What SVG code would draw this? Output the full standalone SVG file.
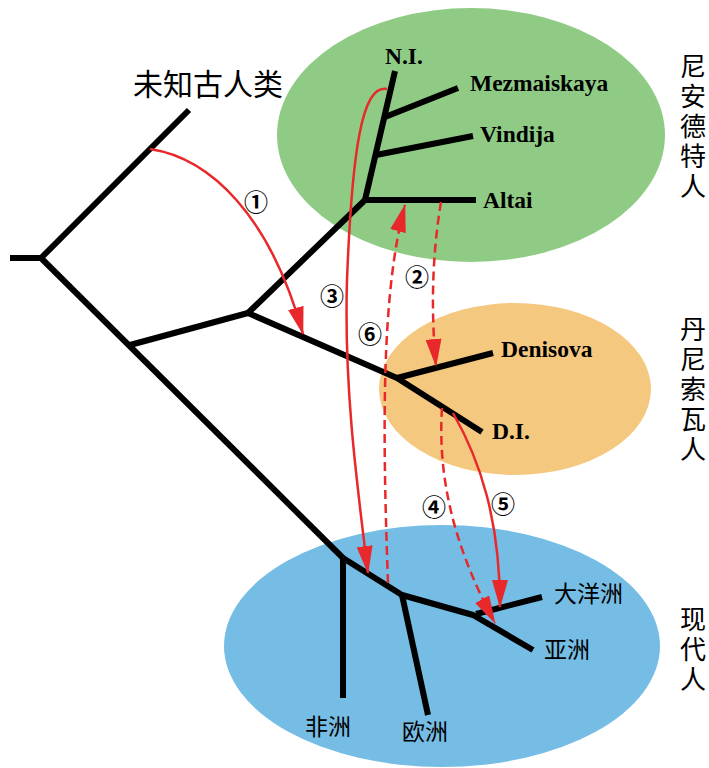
<svg xmlns="http://www.w3.org/2000/svg" width="709" height="768" viewBox="0 0 709 768">
<style>
.br{stroke:#000;stroke-width:6;fill:none;stroke-linecap:butt;stroke-linejoin:round}
.ar{stroke:#e8282a;stroke-width:2.5;fill:none}
.da{stroke-dasharray:9 5}
.en{font-family:"Liberation Serif",serif;font-weight:bold;font-size:23.5px;fill:#000}
.cn{font-family:"Noto Sans CJK SC",sans-serif;font-size:23px;fill:#000}
.vt{font-family:"Noto Sans CJK SC",sans-serif;font-size:26px;fill:#000;writing-mode:vertical-rl;letter-spacing:4px}
.num{font-family:"Noto Sans CJK SC",sans-serif;font-size:24px;font-weight:bold;fill:#000;text-anchor:middle}
</style>
<defs>
<marker id="ah" markerUnits="userSpaceOnUse" markerWidth="28" markerHeight="16" viewBox="0 0 28 16" refX="27" refY="8" orient="auto">
<path d="M0,0 L28,8 L0,16 z" fill="#e8282a"/>
</marker>
</defs>
<g id="regions">
<ellipse id="neanderthal-region" cx="471" cy="135" rx="194" ry="127" fill="#8fcb85"/>
<ellipse id="denisovan-region" cx="515" cy="389" rx="136" ry="86" fill="#f5c880"/>
<ellipse id="modern-region" cx="442" cy="646" rx="218" ry="121" fill="#76bde6"/>
</g>
<g id="tree">
<polyline class="br" points="10,258 41,258"/>
<polyline class="br" points="41,258 189,110"/>
<polyline class="br" points="41,258 343,558"/>
<polyline class="br" points="130,345 248,313"/>
<polyline class="br" points="248,313 365,200"/>
<polyline class="br" points="365,200 476,200"/>
<polyline class="br" points="365,200 395,71"/>
<polyline class="br" points="385,117 458,88"/>
<polyline class="br" points="376,155 473,136"/>
<polyline class="br" points="248,313 397,378 482,432"/>
<polyline class="br" points="397,378 493,353"/>
<polyline class="br" points="343,558 343,698"/>
<polyline class="br" points="343,558 402,595 473,615 533,650"/>
<polyline class="br" points="476,614 542,597"/>
<polyline class="br" points="402,595 428,715"/>
</g>
<g id="connectors">
<path id="c1" class="ar" d="M150,149 C210,158 270,215 303,334" marker-end="url(#ah)"/>
<path id="c2" class="ar da" d="M441,202 Q428,280 436,366" marker-end="url(#ah)"/>
<path id="c3" class="ar" d="M387,89 C362,84 352,150 347,280 C344,380 355,470 368,573" marker-end="url(#ah)"/>
<path id="c6" class="ar da" d="M388,583 C382,420 382,290 405,205" marker-end="url(#ah)"/>
<path id="c4" class="ar da" d="M442,408 C438,470 450,540 495,623" marker-end="url(#ah)"/>
<path id="c5" class="ar" d="M453,413 C480,460 500,520 500,607" marker-end="url(#ah)"/>
</g>
<g id="numbers">
<text class="num" x="256" y="211">①</text>
<text class="num" x="417" y="286">②</text>
<text class="num" x="332" y="305">③</text>
<text class="num" x="370" y="343">⑥</text>
<text class="num" x="434" y="516">④</text>
<text class="num" x="503" y="513">⑤</text>
</g>
<g id="labels">
<text class="cn" x="133" y="95" style="font-size:30px">未知古人类</text>
<text class="en" x="385" y="64">N.I.</text>
<text class="en" x="470" y="91">Mezmaiskaya</text>
<text class="en" x="480" y="142">Vindija</text>
<text class="en" x="483" y="208">Altai</text>
<text class="en" x="501" y="357">Denisova</text>
<text class="en" x="492" y="439">D.I.</text>
<text class="cn" x="305" y="735">非洲</text>
<text class="cn" x="402" y="740">欧洲</text>
<text class="cn" x="554" y="602">大洋洲</text>
<text class="cn" x="544" y="658">亚洲</text>
<text class="vt" x="693" y="53">尼安德特人</text>
<text class="vt" x="693" y="316">丹尼索瓦人</text>
<text class="vt" x="693" y="606">现代人</text>
</g>
</svg>
